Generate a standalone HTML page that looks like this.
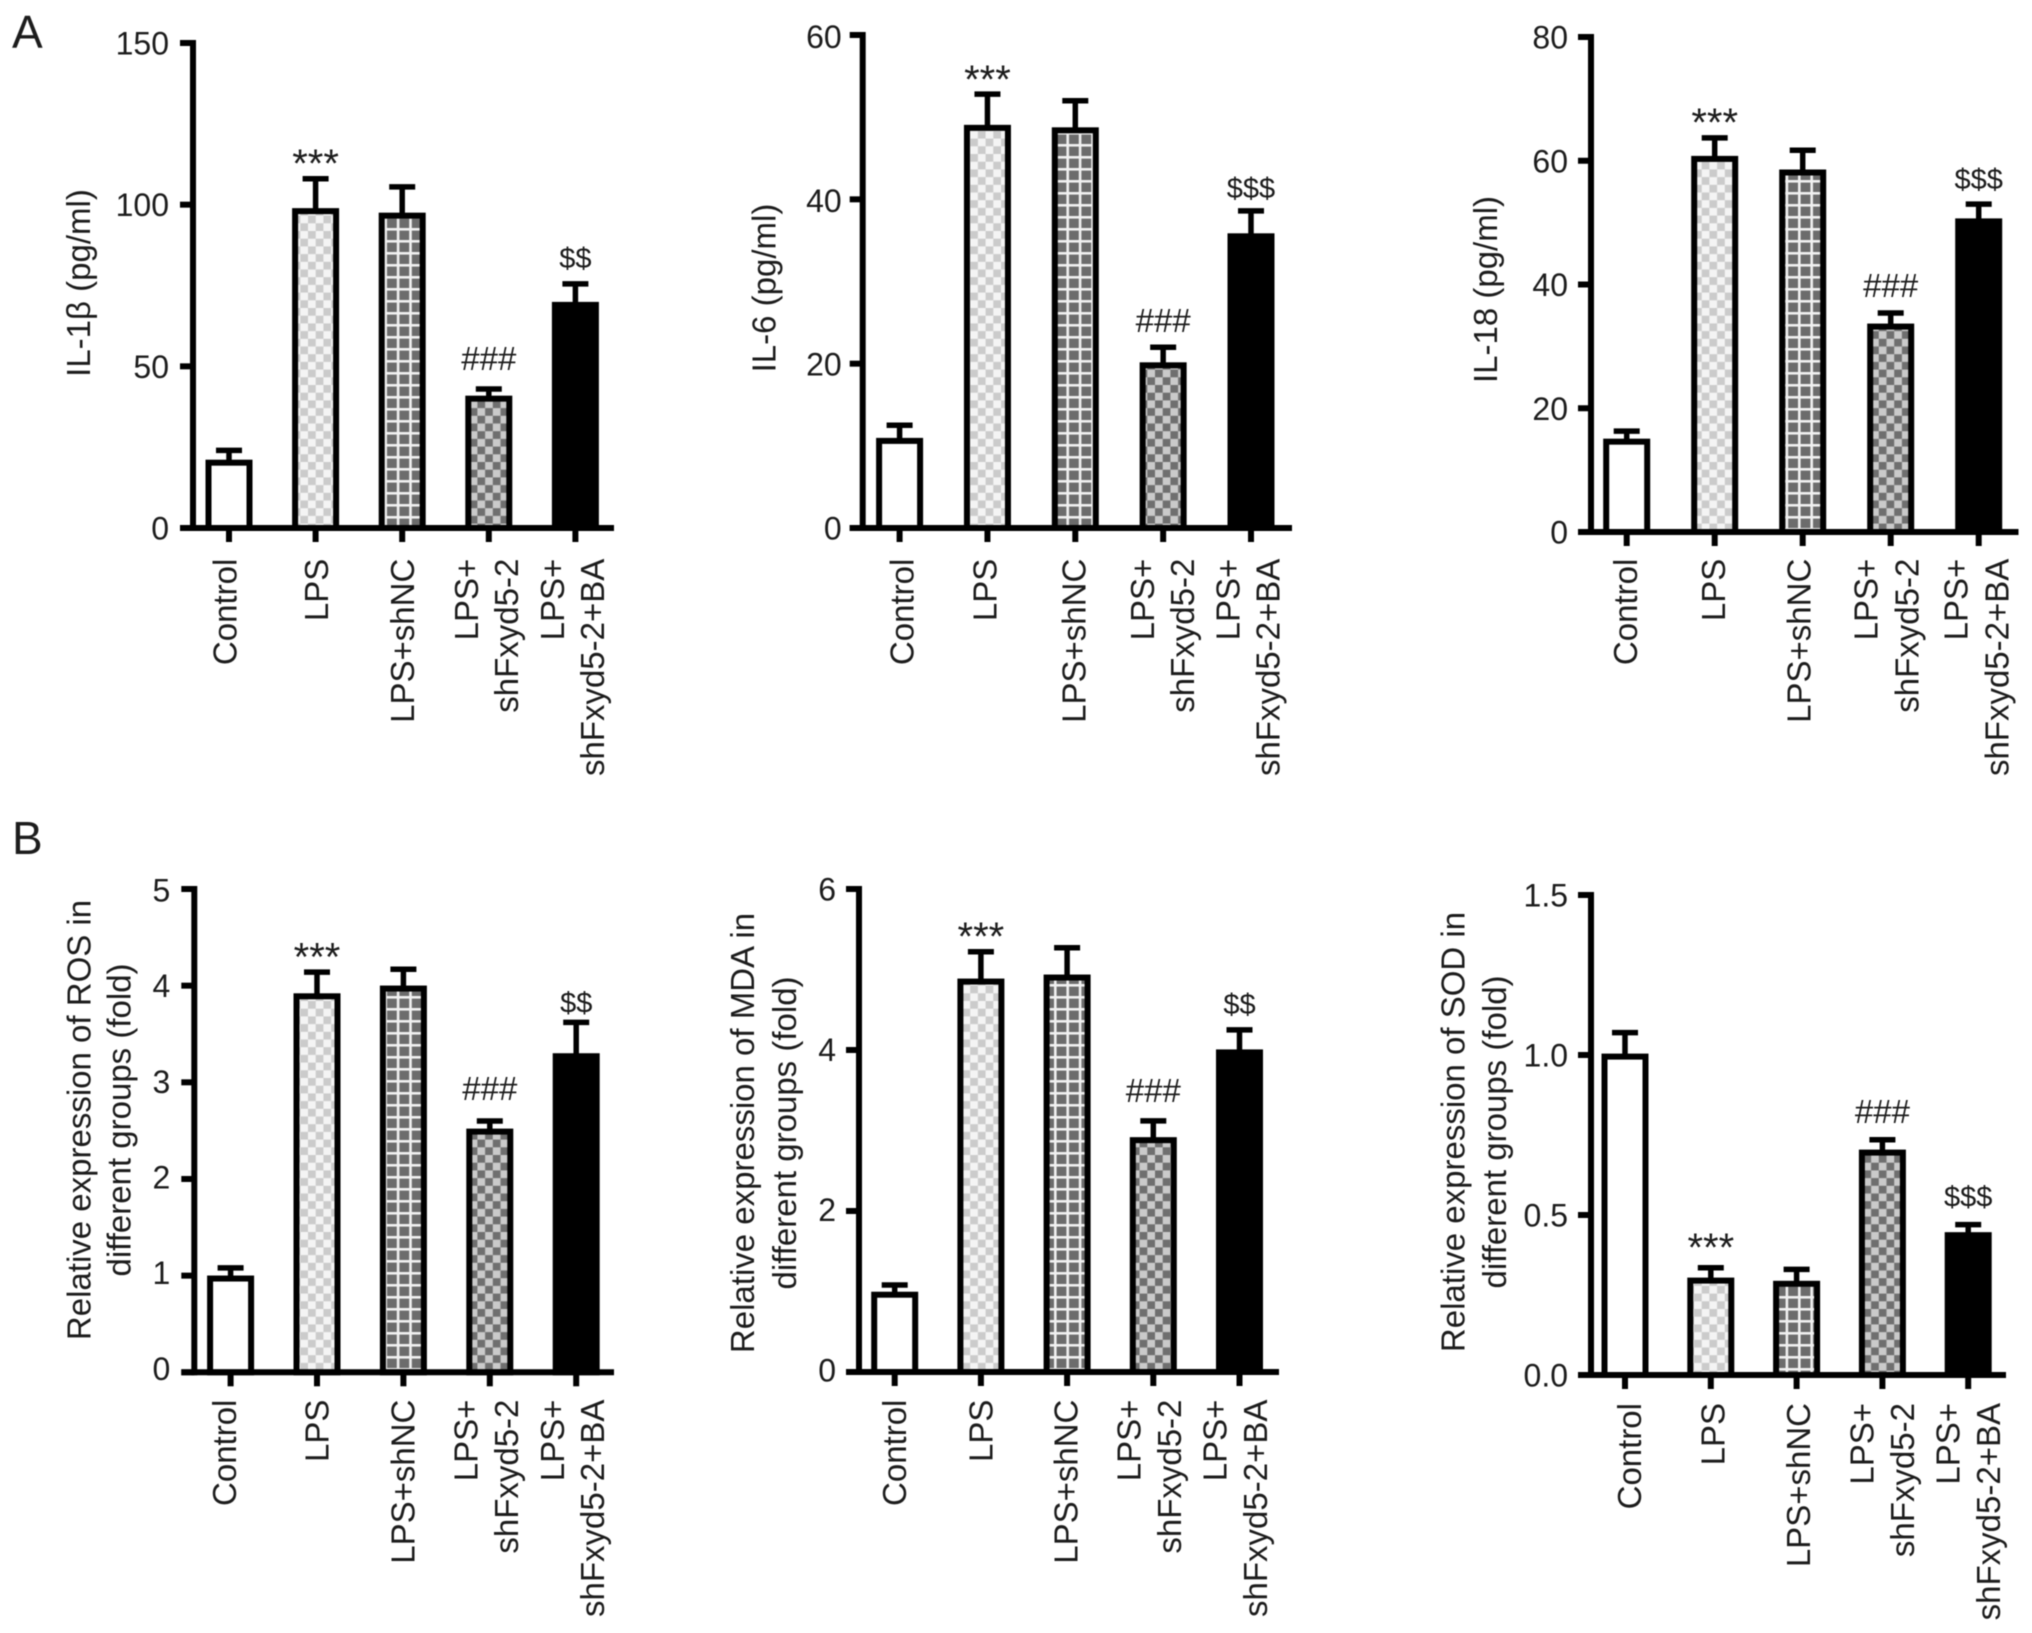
<!DOCTYPE html>
<html lang="en">
<head>
<meta charset="utf-8">
<title>Cytokine and oxidative stress bar charts</title>
<style>
html,body{margin:0;padding:0;background:#fff;}
svg{display:block;filter:blur(0.6px);}
text{font-family:"Liberation Sans",Arial,sans-serif;fill:#1c1c1c;}
</style>
</head>
<body>
<svg id="figure" xmlns="http://www.w3.org/2000/svg" width="2032" height="1633" viewBox="0 0 2032 1633">
<defs>
<pattern id="p-light" patternUnits="userSpaceOnUse" width="15.4" height="15.4">
<rect width="15.4" height="15.4" fill="#f4f4f4"/>
<rect width="7.7" height="7.7" fill="#cbcbcb"/>
<rect x="7.7" y="7.7" width="7.7" height="7.7" fill="#cbcbcb"/>
</pattern>
<pattern id="p-grid" patternUnits="userSpaceOnUse" width="12.4" height="12">
<rect width="12.4" height="12" fill="#6c6c6c"/>
<rect width="12.4" height="2.6" fill="#f0f0f0"/>
<rect width="2.6" height="12" fill="#f0f0f0"/>
</pattern>
<pattern id="p-dark" patternUnits="userSpaceOnUse" width="15.4" height="15.4">
<rect width="15.4" height="15.4" fill="#cacaca"/>
<rect width="7.7" height="7.7" fill="#6f6f6f"/>
<rect x="7.7" y="7.7" width="7.7" height="7.7" fill="#6f6f6f"/>
</pattern>
</defs>
<text x="12" y="48" font-size="46">A</text>
<text x="12" y="854" font-size="46">B</text>
</svg>
<script>
// Shared categories (multi-line labels are arrays of lines)
const categories = ['Control', 'LPS', 'LPS+shNC', ['LPS+', 'shFxyd5-2'], ['LPS+', 'shFxyd5-2+BA']];
const significance = [null, '***', null, '###', '$$'];
const significanceStrong = [null, '***', null, '###', '$$$'];

// Series values
const il1bValues = [20.2, 98, 96.6, 40, 69];
const il1bErrors = [24, 108, 105.5, 43, 75.5];
const il1bTicks = [0, 50, 100, 150];

const il6Values = [10.6, 48.7, 48.4, 19.8, 35.5];
const il6Errors = [12.5, 52.8, 52, 22, 38.6];
const il6Ticks = [0, 20, 40, 60];

const il18Values = [14.6, 60.3, 58.1, 33.2, 50.2];
const il18Errors = [16.3, 63.7, 61.7, 35.4, 53];
const il18Ticks = [0, 20, 40, 60, 80];

const rosValues = [0.97, 3.89, 3.97, 2.49, 3.27];
const rosErrors = [1.08, 4.14, 4.17, 2.6, 3.62];
const rosTicks = [0, 1, 2, 3, 4, 5];

const mdaValues = [0.96, 4.85, 4.9, 2.88, 3.97];
const mdaErrors = [1.08, 5.22, 5.27, 3.12, 4.25];
const mdaTicks = [0, 2, 4, 6];

const sodValues = [0.995, 0.295, 0.285, 0.695, 0.437];
const sodErrors = [1.07, 0.335, 0.33, 0.735, 0.47];
const sodTicks = ['0.0', '0.5', '1.0', '1.5'];

const fills = ['#ffffff', 'url(#p-light)', 'url(#p-grid)', 'url(#p-dark)', '#000000'];

const panels = [
  {id:'il-1b', title:['IL-1β (pg/ml)'], values:il1bValues, errors:il1bErrors, ticks:il1bTicks, sig:significance,
   axisX:193, top:43, base:528, right:614, x0:229, step:86.6, labelTop:558.7, labelDy:[0,0], labelGap:24,
   titleX:[90], titleY:283, catDx:[[7.7],[12.6],[12],[-11,29.4],[-11.5,28.5]], sigDy:[0,21,0,19,16]},
  {id:'il-6', title:['IL-6 (pg/ml)'], values:il6Values, errors:il6Errors, ticks:il6Ticks, sig:significanceStrong,
   axisX:862.7, top:35, base:528, right:1292, x0:899.6, step:87.85, labelTop:558.7, labelDy:[0,1.7], labelGap:21,
   titleX:[775.5], titleY:288, catDx:[[13.9],[8.9],[10.2],[-9.1,30.9],[-11.4,28.6]], sigDy:[0,20,0,15,13]},
  {id:'il-18', title:['IL-18 (pg/ml)'], values:il18Values, errors:il18Errors, ticks:il18Ticks, sig:significanceStrong,
   axisX:1591, top:37, base:532, right:2018.5, x0:1626.7, step:88, labelTop:558.7, labelDy:[0,0], labelGap:23,
   titleX:[1497], titleY:289.5, catDx:[[10.3],[10.3],[8],[-13.1,27.7],[-11,29.8]], sigDy:[0,21,0,16,15]},
  {id:'ros', title:['Relative expression of ROS in','different groups (fold)'], values:rosValues, errors:rosErrors, ticks:rosTicks, sig:significance,
   axisX:194.3, top:889, base:1372.3, right:614, x0:230.6, step:86.4, labelTop:1399.6, labelDy:[-4,1], labelGap:24,
   titleX:[90.6,130.6], titleY:1120, catDx:[[5.4],[11.6],[11],[-12.5,28],[-12,28]], sigDy:[0,20.5,0,21,10]},
  {id:'mda', title:['Relative expression of MDA in','different groups (fold)'], values:mdaValues, errors:mdaErrors, ticks:mdaTicks, sig:significance,
   axisX:859, top:889, base:1372, right:1279, x0:894.7, step:86.2, labelTop:1399.6, labelDy:[-2,0], labelGap:23,
   titleX:[754,796], titleY:1133, catDx:[[11.3],[11.4],[10.2],[-13,27.8],[-13.1,27.7]], sigDy:[0,21,0,19,16]},
  {id:'sod', title:['Relative expression of SOD in','different groups (fold)'], values:sodValues, errors:sodErrors, ticks:sodTicks, sig:significanceStrong,
   axisX:1591, top:895, base:1375, right:2006, x0:1625, step:85.8, labelTop:1403, labelDy:[0,0], labelGap:23,
   titleX:[1464.6,1506], titleY:1132, catDx:[[16],[13.9],[13.5],[-9,31.8],[-8.7,32]], sigDy:[0,26,0,17,18]}
];

const SVGNS = 'http://www.w3.org/2000/svg';
const figure = document.getElementById('figure');

function make(parent, tag, attrs, content) {
  const el = document.createElementNS(SVGNS, tag);
  for (const k in attrs) el.setAttribute(k, attrs[k]);
  if (content !== undefined) el.textContent = content;
  parent.appendChild(el);
  return el;
}

function drawPanel(p) {
  const tickNums = p.ticks.map(Number);
  const maxTick = Math.max.apply(null, tickNums);
  const yScale = v => p.base - (v / maxTick) * (p.base - p.top);
  const xScale = i => p.x0 + p.step * i;

  const g = make(figure, 'g', {});
  
  

  p.values.forEach((v, i) => {
    const cx = xScale(i);
    const errY = yScale(p.errors[i]);
    const topY = yScale(v);

    const stem = make(g, 'line', {x1:cx, x2:cx, y1:errY, y2:topY, stroke:'#000', 'stroke-width':5.5});
    
    

    const cap = make(g, 'line', {x1:cx-13, x2:cx+13, y1:errY, y2:errY, stroke:'#000', 'stroke-width':5.5});
    
    

    const bar = make(g, 'rect', {x:cx-20.5, y:topY, width:41, height:p.base-topY, fill:fills[i], stroke:'#000', 'stroke-width':6});
    
    

    const mark = p.sig[i];
    if (mark) {
      let size = 33, y = errY - p.sigDy[i];
      if (mark[0] === '*') { size = 40; y = errY - p.sigDy[i] + 19; }
      if (mark[0] === '$') { size = 29; }
      const t = make(g, 'text', {x:cx, y:y, 'font-size':size, 'text-anchor':'middle'}, mark);
      
      
    }

    const tick = make(g, 'line', {x1:cx, x2:cx, y1:p.base, y2:p.base+14, stroke:'#000', 'stroke-width':6});
    
    

    const lines = [].concat(categories[i]);
    lines.forEach((line, j) => {
      const bx = cx + p.catDx[i][j];
      const lab = make(g, 'text', {x:0, y:0, 'font-size':33, 'text-anchor':'end',
        transform:'translate(' + bx + ' ' + p.labelTop + ') rotate(-90)'}, line);
      
      
    });
  });

  const yAxis = make(g, 'line', {x1:p.axisX, x2:p.axisX, y1:p.top-3, y2:p.base+3, stroke:'#000', 'stroke-width':6});
  
  

  const xAxis = make(g, 'line', {x1:p.axisX-13, x2:p.right, y1:p.base, y2:p.base, stroke:'#000', 'stroke-width':6});
  
  

  p.ticks.forEach((label, i) => {
    const value = tickNums[i];
    const y = yScale(value);
    const tick = make(g, 'line', {x1:p.axisX-13, x2:p.axisX, y1:y, y2:y, stroke:'#000', 'stroke-width':6});
    
    

    const frac = value / maxTick;
    const shift = p.labelDy[0] + (p.labelDy[1] - p.labelDy[0]) * frac;
    const t = make(g, 'text', {x:p.axisX-p.labelGap, y:y+11.5+shift, 'font-size':32, 'text-anchor':'end'}, label);
    
    
  });

  p.title.forEach((line, j) => {
    const t = make(g, 'text', {x:0, y:0, 'font-size':33, 'text-anchor':'middle',
      transform:'translate(' + p.titleX[j] + ' ' + p.titleY + ') rotate(-90)'}, line);
    
    
  });
}

panels.forEach(drawPanel);
</script>
</body>
</html>
